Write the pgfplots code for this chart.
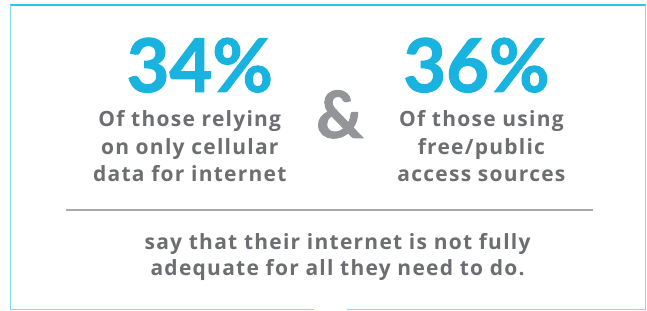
\documentclass[border=0pt]{standalone}
\usepackage{pgfplots}
\pgfplotsset{compat=1.18}
\usepackage{fontspec}
\setmainfont{Open Sans}[LetterSpace=6]
\newfontfamily\numfont{Lato}[BoldFeatures={FakeBold=1.5}]
\definecolor{numcyan}{HTML}{19B3E0}
\definecolor{bordercyan}{HTML}{2BC4F2}
\definecolor{txt}{HTML}{6D6E71}
\definecolor{amp}{HTML}{939598}
\definecolor{sep}{HTML}{A7A9AC}
\begin{document}
\begin{tikzpicture}
\begin{axis}[width=647pt,height=311pt,scale only axis,
  xmin=0,xmax=647,ymin=0,ymax=311,hide axis,clip=false]
\fill[white] (axis cs:0,0) rectangle (axis cs:647,311);
% frame
\draw[bordercyan, line width=2.5pt] (axis cs:10.5,306) -- (axis cs:646.5,306);
\draw[bordercyan!60, line width=1pt] (axis cs:11,306) -- (axis cs:11,1);
\draw[bordercyan!60, line width=1pt] (axis cs:646,306) -- (axis cs:646,1);
\draw[bordercyan!60, line width=1pt] (axis cs:11,1) -- (axis cs:314,1);
\draw[bordercyan!60, line width=1pt] (axis cs:347,1) -- (axis cs:646,1);
% percentages
\addplot[only marks, mark=none, point meta=explicit symbolic,
  nodes near coords={\pgfplotspointmeta\%},
  nodes near coords align={anchor=base},
  every node near coord/.append style={anchor=base, inner sep=0pt,
    text=numcyan, font=\numfont\bfseries\fontsize{74}{74}\selectfont}]
  coordinates {(200,219) [34] (477,219) [36]};
% ampersand
\node[anchor=base, inner sep=0pt, text=amp, font=\numfont\bfseries\fontsize{65}{65}\selectfont]
  at (axis cs:340,173) {\&};
% texts
\begin{scope}[every node/.style={anchor=base, inner sep=0pt, text=txt,
   font=\bfseries\fontsize{21}{21}\selectfont}]
\node at (axis cs:190,184) {Of those relying};
\node at (axis cs:190,156) {on only cellular};
\node at (axis cs:190,129) {data for internet};
\node at (axis cs:482,184) {Of those using};
\node at (axis cs:482,156) {free/public};
\node at (axis cs:482,129) {access sources};
\node at (axis cs:338,61) {say that their internet is not fully};
\node at (axis cs:338,35) {adequate for all they need to do.};
\end{scope}
\draw[sep, line width=2pt] (axis cs:66,101) -- (axis cs:594,101);
\end{axis}
\end{tikzpicture}
\end{document}
